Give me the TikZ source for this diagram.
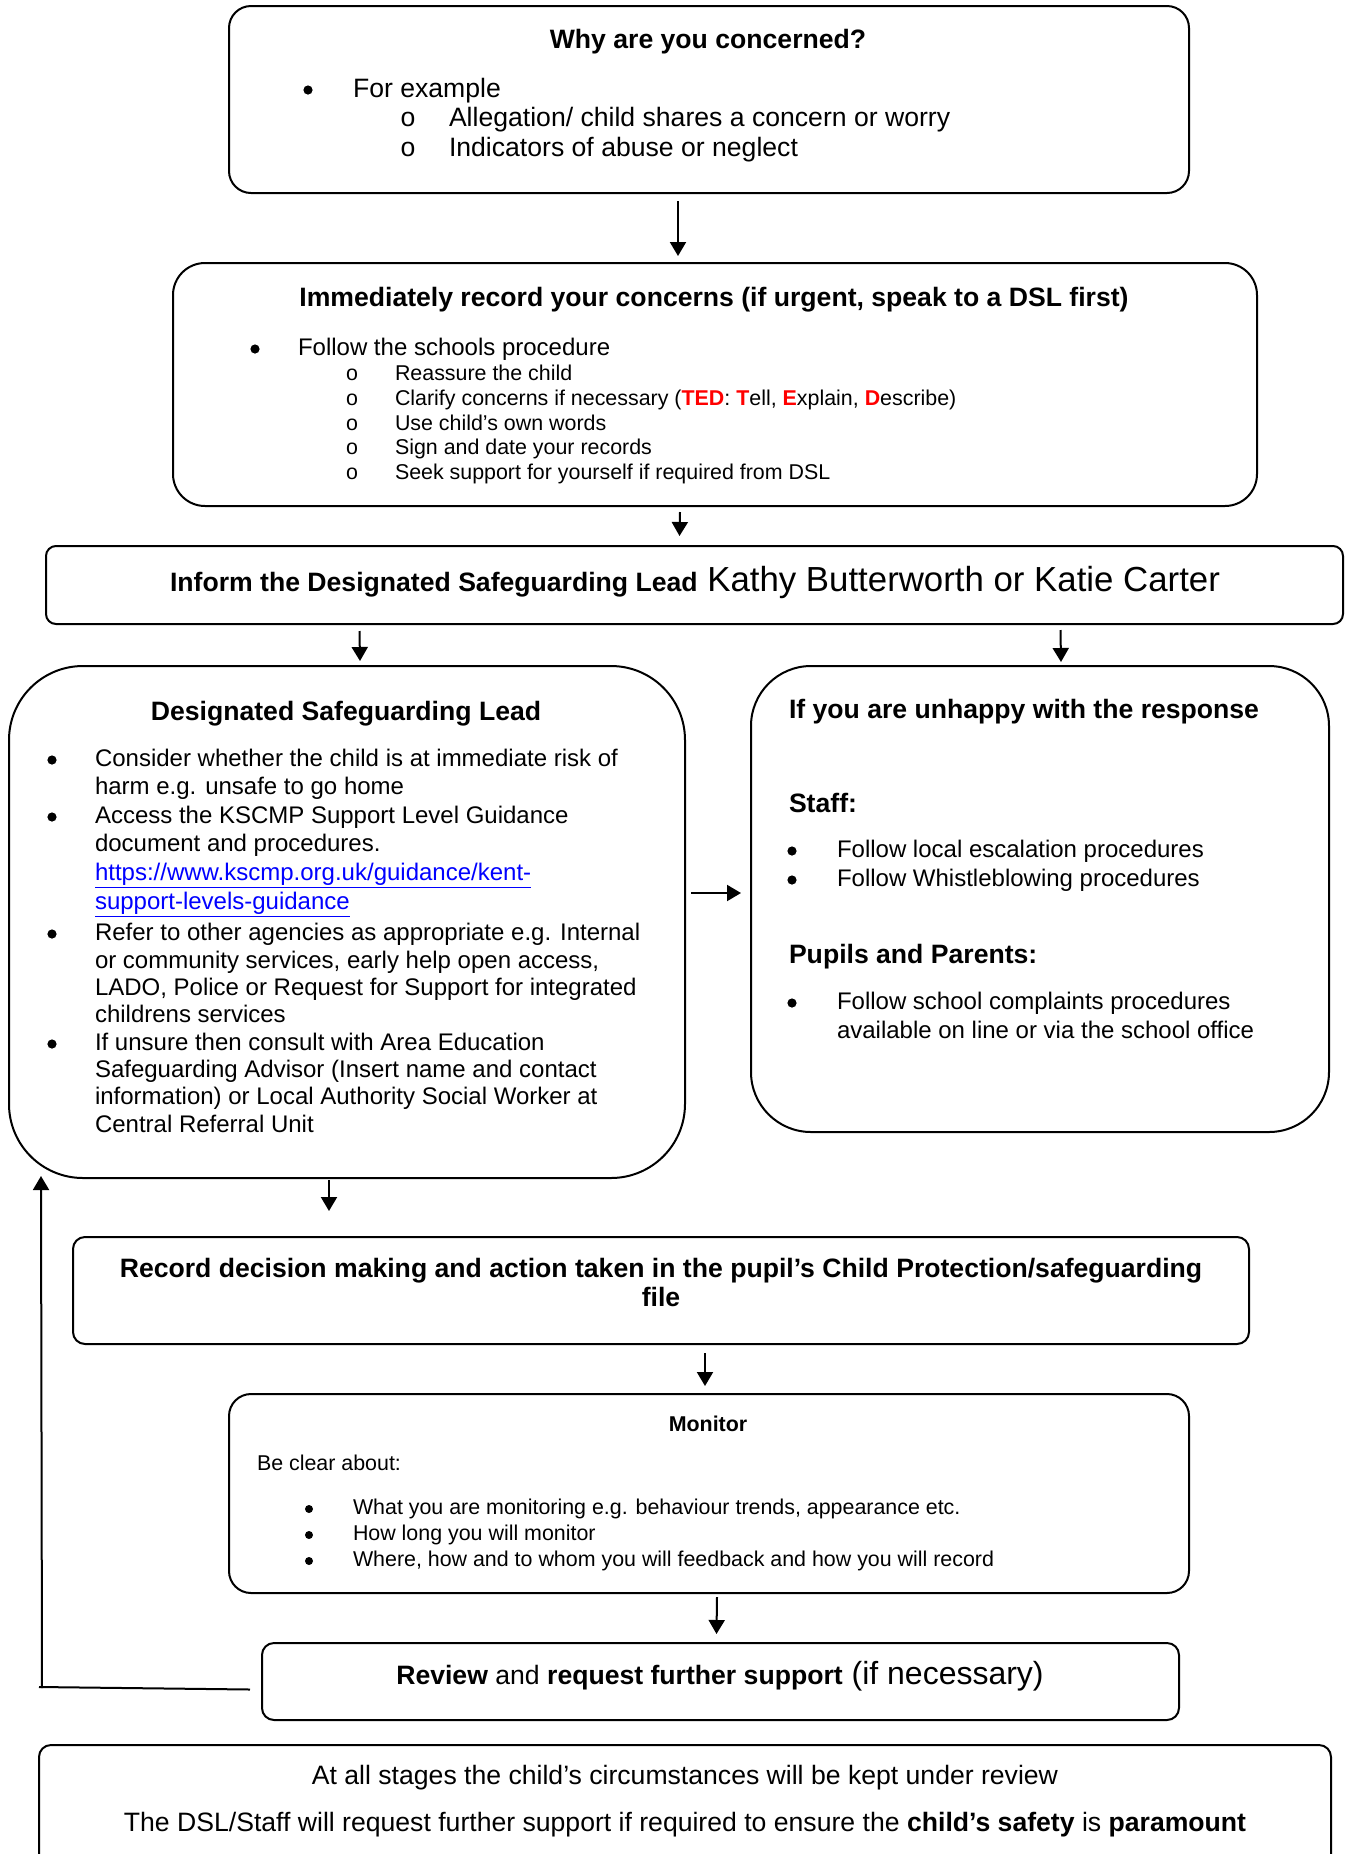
\documentclass[tikz,border=0pt]{standalone}
\usepackage{fontspec}
\setmainfont{Liberation Sans}
\setmonofont{Liberation Mono}
\usetikzlibrary{arrows.meta,calc,fit}
\begin{document}
\begin{tikzpicture}
[x=.5pt,y=-.5pt,line width=1pt,
bx/.style={draw,inner sep=0pt},
ar/.style={-{Triangle[length=7pt,width=8pt]}},
lt/.style={anchor=base west,inner sep=0pt},
ct/.style={anchor=base,inner sep=0pt},
hd/.style={font=\fontsize{13.3}{16}\selectfont\bfseries},
big/.style={font=\fontsize{13.3}{16}\selectfont},
nm/.style={font=\fontsize{12}{14}\selectfont},
sm/.style={font=\fontsize{10.7}{13}\selectfont},
smb/.style={font=\fontsize{10.7}{13}\selectfont\bfseries},
e/.style={circle,fill,inner sep=0pt,minimum size=4.6pt},
o/.style={anchor=base,inner sep=0pt,font=\ttfamily}]
\useasboundingbox (0,0) rectangle (1346,1854);
\node(why)[bx,rounded corners=11pt,fit={(229,6)(1189,193)}]{};
\node(rec)[bx,rounded corners=16pt,fit={(173,263)(1257,506)}]{};
\node(inf)[bx,rounded corners=5pt,fit={(46,546)(1343,624)}]{};
\node(dsl)[bx,rounded corners=37pt,fit={(9,666)(685,1178)}]{};
\node(unh)[bx,rounded corners=30pt,fit={(751,666)(1329,1132)}]{};
\node(dec)[bx,rounded corners=6pt,fit={(73,1237)(1249,1344)}]{};
\node(mon)[bx,rounded corners=11pt,fit={(229,1394)(1189,1593)}]{};
\node(rev)[bx,rounded corners=6pt,fit={(262,1643)(1179,1720)}]{};
\node(fin)[bx,rounded corners=6pt,fit={(39,1745)(1331,1880)}]{};

\node(w0) at (708,48)[ct,hd]{Why are you concerned?};
\node(wb) at (308,90)[e]{};\node(w1) at (352,97)[lt,big]{For example};
\node(wo1) at (408,126)[o,big]{o};\node(w2) at (448,126)[lt,big]{Allegation/ child shares a concern or worry};
\node(wo2) at (408,156)[o,big]{o};\node(w3) at (448,156)[lt,big]{Indicators of abuse or neglect};

\node(r0) at (714,306)[ct,hd]{Immediately record your concerns (if urgent, speak to a DSL first)};
\node(rb) at (255,349)[e]{};\node(r1) at (297,355)[lt,nm]{Follow the schools procedure};
\node(ro1) at (352,380)[o,sm]{o};\node(r2) at (394,380)[lt,sm]{Reassure the child};
\node(ro2) at (352,405)[o,sm]{o};\node(r3) at (394,405)[lt,sm]{Clarify concerns if necessary ({\color{red}\bfseries TED}: {\color{red}\bfseries T}ell, {\color{red}\bfseries E}xplain, {\color{red}\bfseries D}escribe)};
\node(ro3) at (352,430)[o,sm]{o};\node(r4) at (394,430)[lt,sm]{Use child's own words};
\node(ro4) at (352,454)[o,sm]{o};\node(r5) at (394,454)[lt,sm]{Sign and date your records};
\node(ro5) at (352,479)[o,sm]{o};\node(r6) at (394,479)[lt,sm]{Seek support for yourself if required from DSL};

\node(i0) at (695,591)[ct,font=\fontsize{17.4}{20}\selectfont]{{\fontsize{13.3}{16}\selectfont\bfseries Inform the Designated Safeguarding Lead} Kathy Butterworth or Katie Carter};

\node(d0) at (346,720)[ct,hd]{Designated Safeguarding Lead};
\node(db1) at (52,760)[e]{};\node(d1) at (94,766)[lt,nm]{Consider whether the child is at immediate risk of};
\node(d2) at (94,794)[lt,nm]{harm e.g. unsafe to go home};
\node(db2) at (52,817)[e]{};\node(d3) at (94,823)[lt,nm]{Access the KSCMP Support Level Guidance};
\node(d4) at (94,851)[lt,nm]{document and procedures.};
\node(d5) at (94,880)[lt,nm]{\color{blue}\underline{https://www.kscmp.org.uk/guidance/kent-}};
\node(d6) at (94,909)[lt,nm]{\color{blue}\underline{support-levels-guidance}};
\node(db3) at (52,934)[e]{};\node(d7) at (94,940)[lt,nm]{Refer to other agencies as appropriate e.g. Internal};
\node(d8) at (94,968)[lt,nm]{or community services, early help open access,};
\node(d9) at (94,995)[lt,nm]{LADO, Police or Request for Support for integrated};
\node(d10) at (94,1022)[lt,nm]{childrens services};
\node(db4) at (52,1044)[e]{};\node(d11) at (94,1050)[lt,nm]{If unsure then consult with Area Education};
\node(d12) at (94,1077)[lt,nm]{Safeguarding Advisor (Insert name and contact};
\node(d13) at (94,1104)[lt,nm]{information) or Local Authority Social Worker at};
\node(d14) at (94,1132)[lt,nm]{Central Referral Unit};

\node(u0) at (788,718)[lt,hd]{If you are unhappy with the response};
\node(u1) at (788,812)[lt,hd]{Staff:};
\node(ub1) at (792,851)[e]{};\node(u2) at (836,857)[lt,nm]{Follow local escalation procedures};
\node(ub2) at (792,880)[e]{};\node(u3) at (836,886)[lt,nm]{Follow Whistleblowing procedures};
\node(u4) at (788,963)[lt,hd]{Pupils and Parents:};
\node(ub3) at (792,1003)[e]{};\node(u5) at (836,1009)[lt,nm]{Follow school complaints procedures};
\node(u6) at (836,1038)[lt,nm]{available on line or via the school office};

\node(e0) at (661,1277)[ct,hd]{Record decision making and action taken in the pupil's Child Protection/safeguarding};
\node(e1) at (661,1306)[ct,hd]{file};

\node(m0) at (708,1431)[ct,smb]{Monitor};
\node(m1) at (256,1470)[lt,sm]{Be clear about:};
\node(mb1) at (309,1509)[e,minimum size=4pt]{};\node(m2) at (352,1514)[lt,sm]{What you are monitoring e.g. behaviour trends, appearance etc.};
\node(mb2) at (309,1535)[e,minimum size=4pt]{};\node(m3) at (352,1540)[lt,sm]{How long you will monitor};
\node(mb3) at (309,1561)[e,minimum size=4pt]{};\node(m4) at (352,1566)[lt,sm]{Where, how and to whom you will feedback and how you will record};

\node(v0) at (720,1684)[ct,font=\fontsize{16}{19}\selectfont]{{\fontsize{13.3}{16}\selectfont\textbf{Review} and \textbf{request further support}} (if necessary)};

\node(f0) at (685,1784)[ct,big]{At all stages the child's circumstances will be kept under review};
\node(f1) at (685,1831)[ct,big]{The DSL/Staff will request further support if required to ensure the \textbf{child's safety} is \textbf{paramount}};

\draw[ar]($(why.south)+(-31,7)$)--($(rec.north)+(-37,-6)$);
\draw[ar]($(rec.south)+(-35,5)$)--($(inf.north)+(-15,-9)$);
\draw[ar]($(inf.south)+(-335,6)$)--($(dsl.north)+(13,-4)$);
\draw[ar]($(inf.south)+(366,5)$)--($(unh.north)+(21,-3)$);
\draw[ar]($(dsl.east)+(5,-29)$)--($(unh.west)+(-9,-6)$);
\draw[ar]($(dsl.south)+(-18,1)$)--($(dec.north)+(-332,-25)$);
\draw[ar]($(dec.south)+(44,8)$)--($(mon.north)+(-4,-7)$);
\draw[ar]($(mon.south)+(8,3)$)--($(rev.north)+(-4,-8)$);
\coordinate(fbl) at (39,1687);\coordinate(fbv) at (42,1688);
\draw($(rev.west)+(-11,8)$)--(fbl);
\draw[ar](fbv)--($(dsl.south west)+(33,-3)$);
\end{tikzpicture}
\end{document}
